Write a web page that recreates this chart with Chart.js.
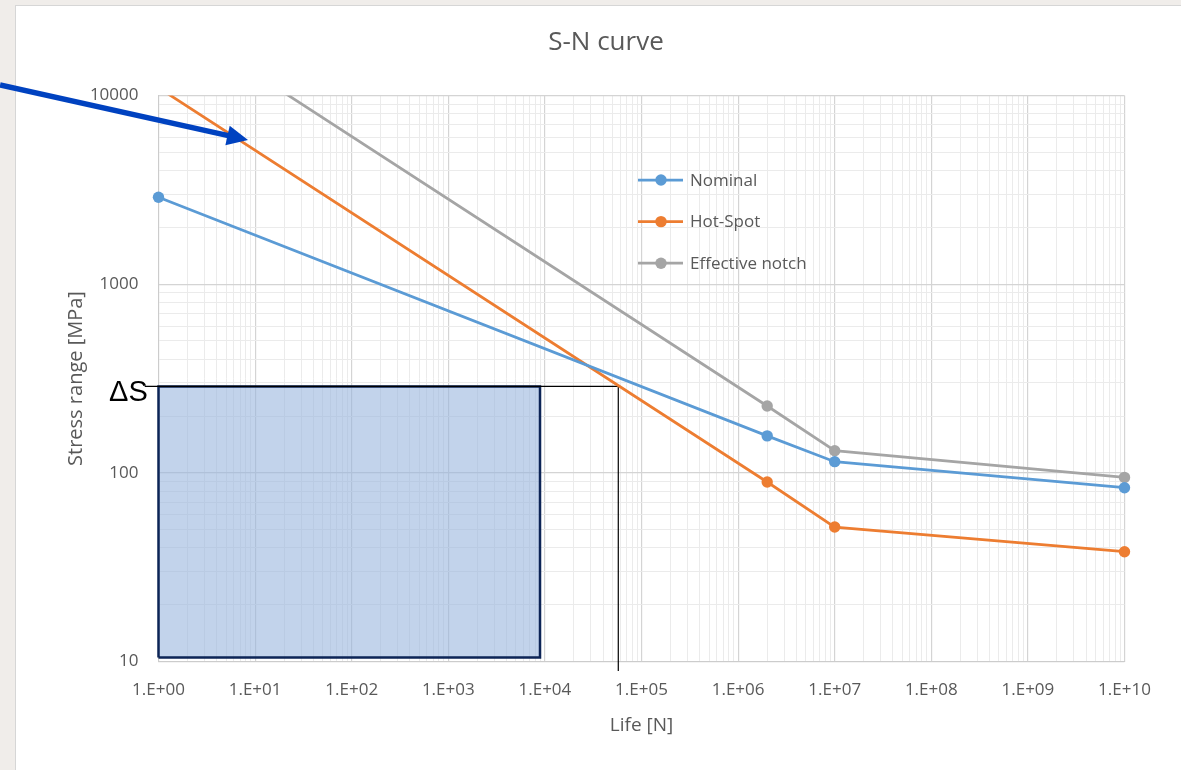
<!DOCTYPE html>
<html lang="en">

<head>
    <meta charset="UTF-8">
    <title>S-N curve</title>
    <script src="https://cdn.jsdelivr.net/npm/chart.js"></script>
    <style>
        body { margin: 0; width: 1181px; height: 770px; overflow: hidden; position: relative; background: #f0edea; }
        .sheet { position: absolute; left: 15px; top: 5px; right: 0; bottom: 0; background: #fff;
                 border-left: 1px solid #d6d6d6; border-top: 1px solid #d6d6d6; }
        #snChart { position: absolute; left: 0; top: 0; }
    </style>
</head>

<body>
    <div class="sheet"></div>
    <canvas id="snChart" width="1181" height="770"></canvas>

    <script>
        // values (N = cycles, S = stress range in MPa)
        const nominalN = [1, 2e6, 1e7, 1e10];
        const nominalS = [2890, 157, 114.6, 83.4];
        const hotSpotN = [1, 2e6, 1e7, 1e10];
        const hotSpotS = [11000, 89.4, 51.6, 38.2];
        const notchN = [1, 2e6, 1e7, 1e10];
        const notchS = [28000, 226, 131, 94.6];

        // shaded ΔS box and the guide line to the nominal curve
        const boxN = [1, 1, 8900, 8900, 1];
        const boxS = [10.5, 287, 287, 10.5, 10.5];
        const guideN = [0.72, 57500, 57500];
        const guideS = [287, 287, 8.9];

        // blue annotation arrow (tail, tip)
        const arrowN = [0.0229, 8.45];
        const arrowS = [11365, 5808];

        const xTicks = [1, 1e1, 1e2, 1e3, 1e4, 1e5, 1e6, 1e7, 1e8, 1e9, 1e10];
        const xTickLabels = ['1.E+00', '1.E+01', '1.E+02', '1.E+03', '1.E+04', '1.E+05',
            '1.E+06', '1.E+07', '1.E+08', '1.E+09', '1.E+10'];
        const yTicks = [10, 100, 1000, 10000];
        const yTickLabels = ['10', '100', '1000', '10000'];

        const textColor = '#595959';
        const font = 'Open Sans';

        function pts(xs, ys) {
            return xs.map((x, i) => ({ x: x, y: ys[i] }));
        }

        // decades plus the 2..9 minor lines in between
        function withMinor(decades) {
            const out = [];
            decades.forEach((d, i) => {
                out.push({ value: d, major: true });
                if (i < decades.length - 1) {
                    for (let m = 2; m <= 9; m++) out.push({ value: m * d, major: false });
                }
            });
            return out;
        }

        function series(label, xs, ys, color) {
            return {
                label: label,
                data: pts(xs, ys),
                showLine: true,
                borderColor: color,
                backgroundColor: color,
                borderWidth: 2.75,
                pointRadius: 5.7,
                pointHoverRadius: 5.7,
                pointBorderWidth: 0,
                clip: { left: false, right: false, bottom: false, top: 0 },
                inLegend: true
            };
        }

        const insideLegend = {
            id: 'insideLegend',
            afterDatasetsDraw(chart) {
                const ctx = chart.ctx;
                ctx.save();
                ctx.font = '17px "' + font + '"';
                ctx.textBaseline = 'middle';
                let row = 0;
                chart.data.datasets.forEach(ds => {
                    if (!ds.inLegend) return;
                    const y = 180 + row * 41.6;
                    ctx.strokeStyle = ds.borderColor;
                    ctx.lineWidth = 2.75;
                    ctx.beginPath();
                    ctx.moveTo(638, y);
                    ctx.lineTo(683, y);
                    ctx.stroke();
                    ctx.fillStyle = ds.backgroundColor;
                    ctx.beginPath();
                    ctx.arc(661, y, 5.7, 0, Math.PI * 2);
                    ctx.fill();
                    ctx.fillStyle = textColor;
                    ctx.fillText(ds.label, 690, y + 1);
                    row++;
                });
                ctx.restore();
            }
        };

        const annotations = {
            id: 'annotations',
            afterDraw(chart) {
                const ctx = chart.ctx;
                const xs = chart.scales.x, ys = chart.scales.y;
                ctx.save();
                // title
                ctx.fillStyle = textColor;
                ctx.font = '26px "' + font + '"';
                ctx.textAlign = 'center';
                ctx.textBaseline = 'middle';
                ctx.fillText('S-N curve', 606, 43);

                // ΔS label at the start of the guide line
                ctx.fillStyle = '#000';
                ctx.font = '29px "Liberation Sans"';
                ctx.textAlign = 'right';
                ctx.fillText('\u0394S', xs.getPixelForValue(guideN[0]) + 3, ys.getPixelForValue(guideS[0]) + 7);

                // arrow
                const x0 = xs.getPixelForValue(arrowN[0]), y0 = ys.getPixelForValue(arrowS[0]);
                const x1 = xs.getPixelForValue(arrowN[1]), y1 = ys.getPixelForValue(arrowS[1]);
                const a = Math.atan2(y1 - y0, x1 - x0);
                const headLen = 21, headW = 10;
                const bx = x1 - headLen * Math.cos(a), by = y1 - headLen * Math.sin(a);
                ctx.strokeStyle = '#0042c0';
                ctx.fillStyle = '#0042c0';
                ctx.lineWidth = 5.5;
                ctx.beginPath();
                ctx.moveTo(x0, y0);
                ctx.lineTo(bx + 2 * Math.cos(a), by + 2 * Math.sin(a));
                ctx.stroke();
                ctx.beginPath();
                ctx.moveTo(x1, y1);
                ctx.lineTo(bx + headW * Math.sin(a), by - headW * Math.cos(a));
                ctx.lineTo(bx - headW * Math.sin(a), by + headW * Math.cos(a));
                ctx.closePath();
                ctx.fill();
                ctx.restore();
            }
        };

        new Chart(document.getElementById('snChart'), {
            type: 'scatter',
            data: {
                datasets: [
                    series('Nominal', nominalN, nominalS, '#5b9bd5'),
                    series('Hot-Spot', hotSpotN, hotSpotS, '#ed7d31'),
                    series('Effective notch', notchN, notchS, '#a5a5a5'),
                    {
                        label: 'guide',
                        data: pts(guideN, guideS),
                        showLine: true,
                        borderColor: '#000',
                        borderWidth: 1.2,
                        pointRadius: 0,
                        clip: false
                    },
                    {
                        label: 'box',
                        data: pts(boxN, boxS),
                        showLine: true,
                        borderColor: '#0c2456',
                        borderWidth: 2.5,
                        backgroundColor: 'rgba(150, 180, 220, 0.58)',
                        fill: 'shape',
                        pointRadius: 0,
                        clip: false
                    }
                ]
            },
            options: {
                responsive: false,
                animation: false,
                devicePixelRatio: 1,
                layout: { padding: { left: 0, right: 56.5, top: 95.5, bottom: 0 } },
                plugins: {
                    legend: { display: false },
                    title: { display: false },
                    tooltip: { enabled: false }
                },
                scales: {
                    x: {
                        type: 'logarithmic',
                        min: 1,
                        max: 1e10,
                        afterBuildTicks: scale => { scale.ticks = withMinor(xTicks); },
                        afterFit: scale => { scale.height = 108.5; },
                        ticks: {
                            autoSkip: false,
                            maxRotation: 0,
                            padding: 18,
                            color: textColor,
                            font: { family: font, size: 17 },
                            callback: v => {
                                const i = xTicks.indexOf(v);
                                return i >= 0 ? xTickLabels[i] : '';
                            }
                        },
                        grid: {
                            drawTicks: false,
                            color: c => (c.tick && c.tick.major) ? '#d4d4d4' : '#ebebeb',
                            lineWidth: c => (c.tick && c.tick.major) ? 1.2 : 1
                        },
                        border: { color: '#cccccc' },
                        title: {
                            display: true,
                            text: 'Life [N]',
                            color: textColor,
                            font: { family: font, size: 19 },
                            padding: { top: 0, bottom: 32.6 }
                        }
                    },
                    y: {
                        type: 'logarithmic',
                        min: 10,
                        max: 10000,
                        afterBuildTicks: scale => { scale.ticks = withMinor(yTicks); },
                        afterFit: scale => { scale.width = 158.5; },
                        ticks: {
                            autoSkip: false,
                            padding: 20,
                            color: textColor,
                            font: { family: font, size: 17 },
                            callback: v => {
                                const i = yTicks.indexOf(v);
                                return i >= 0 ? yTickLabels[i] : '';
                            }
                        },
                        grid: {
                            drawTicks: false,
                            color: c => (c.tick && c.tick.major) ? '#d4d4d4' : '#ebebeb',
                            lineWidth: c => (c.tick && c.tick.major) ? 1.2 : 1
                        },
                        border: { color: '#cccccc' },
                        title: {
                            display: true,
                            text: 'Stress range [MPa]',
                            color: textColor,
                            font: { family: font, size: 20 },
                            padding: { top: 64, bottom: 0 }
                        }
                    }
                }
            },
            plugins: [insideLegend, annotations]
        });
    </script>
</body>

</html>
